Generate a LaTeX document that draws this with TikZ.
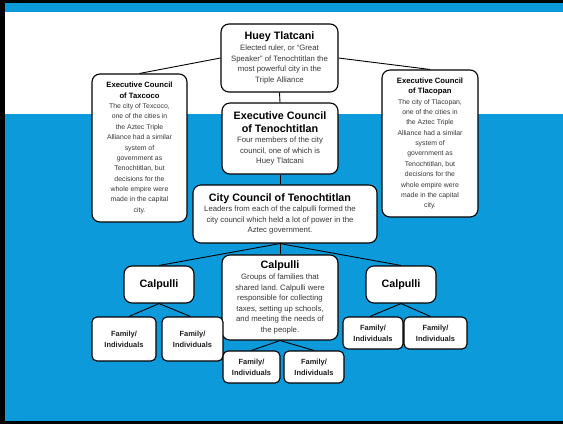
\documentclass[tikz,border=0pt]{standalone}
\usepackage{fontspec}
\setmainfont{Liberation Sans}
\usetikzlibrary{calc}
\definecolor{slideblue}{RGB}{12,154,219}
\definecolor{bodygray}{RGB}{55,55,55}
\frenchspacing
% type sizes: big titles, small titles, body text
\newcommand{\bigttl}{\fontsize{10.8}{12.6}\selectfont\bfseries\color{black}}
\newcommand{\smallttl}{\fontsize{7.7}{10.4}\selectfont\bfseries\color{black}}
\newcommand{\bodytxt}{\fontsize{7.8}{10.6}\selectfont\color{bodygray}}
\newcommand{\sidetxt}{\fontsize{6.9}{10.4}\selectfont\color{bodygray}}
\begin{document}
\begin{tikzpicture}[x=1bp,y=-1bp,
  box/.style={draw=black, line width=1.1bp, rounded corners=8bp, fill=white,
    align=flush center, inner sep=0pt},
  fam/.style={box, rounded corners=5bp, minimum height=#1,
    font=\fontsize{7.5}{11}\selectfont\bfseries, text=black!88},
  link/.style={draw=black, line width=0.9bp}]
\useasboundingbox (0,0) rectangle (563,424);
% slide background
\fill[black] (0,0) rectangle (563,424);
\fill[slideblue] (5,3.3) rectangle (563,12);
\fill[white] (5,12) rectangle (563,114);
\fill[slideblue] (5,114) rectangle (563,420.5);

% ruler
\node[box, minimum width=117bp, minimum height=68bp, text width=113bp] (huey) at (279.5,58)
  {{\bigttl Huey Tlatcani\par}{\bodytxt Elected ruler, or “Great\\Speaker” of Tenochtitlan the\\most powerful city in the\\Triple Alliance\par}};

% allied cities
\node[box, minimum width=95bp, minimum height=148bp, text width=91bp] (taxcoco) at (139.5,148)
  {{\smallttl Executive Council\\of Taxcoco\par}{\sidetxt The city of Texcoco,\\one of the cities in\\the Aztec Triple\\Alliance had a similar\\system of\\government as\\Tenochtitlan, but\\decisions for the\\whole empire were\\made in the capital\\city.\par}\vspace{4bp}};
\node[box, minimum width=96bp, minimum height=147bp, text width=92bp] (tlacopan) at (430,143.5)
  {{\smallttl Executive Council\\of Tlacopan\par}{\sidetxt The city of Tlacopan,\\one of the cities in\\the Aztec Triple\\Alliance had a similar\\system of\\government as\\Tenochtitlan, but\\decisions for the\\whole empire were\\made in the capital\\city.\par}\vspace{4bp}};

% councils of Tenochtitlan
\node[box, minimum width=116bp, minimum height=71bp, text width=112bp] (exec) at (280,138.5)
  {{\bigttl Executive Council\\of Tenochtitlan\par}{\bodytxt Four members of the city\\council, one of which is\\Huey Tlatcani\par}};
\node[box, minimum width=184bp, minimum height=58bp] (city) at (285,214) {};
\node[align=flush center, inner sep=0pt, text width=180bp] (citytext) at (280,214)
  {{\bigttl City Council of Tenochtitlan\par}{\bodytxt Leaders from each of the calpulli formed the\\city council which held a lot of power in the\\Aztec government.\par}};

% calpulli
\node[box, minimum width=70bp, minimum height=37bp] (calL) at (159,284.5) {\bigttl Calpulli};
\node[box, minimum width=116bp, minimum height=85bp, text width=112bp] (calC) at (280,297.5)
  {{\bigttl Calpulli\par}{\bodytxt Groups of families that\\shared land. Calpulli were\\responsible for collecting\\taxes, setting up schools,\\and meeting the needs of\\the people.\par}};
\node[box, minimum width=70bp, minimum height=37bp] (calR) at (401,284.5) {\bigttl Calpulli};

% families
\node[fam=44bp, minimum width=64bp] (famL1) at (124,339) {Family/\\Individuals};
\node[fam=44bp, minimum width=61bp] (famL2) at (192.5,339) {Family/\\Individuals};
\node[fam=32bp, minimum width=57bp] (famC1) at (251.5,367) {Family/\\Individuals};
\node[fam=32bp, minimum width=60bp] (famC2) at (314,367) {Family/\\Individuals};
\node[fam=32bp, minimum width=60bp] (famR1) at (373,333) {Family/\\Individuals};
\node[fam=32bp, minimum width=63bp] (famR2) at (435.5,333) {Family/\\Individuals};

% connectors
\draw[link] (huey.west) -- (taxcoco.north);
\draw[link] (huey.east) -- (tlacopan.north);
\draw[link] (huey.south) -- (exec.north);
\draw[link] (exec.south) -- (exec.south |- city.north);
\coordinate (cityfoot) at (exec.south |- city.south);
\draw[link] (cityfoot) -- (calL.north);
\draw[link] (cityfoot) -- (calC.north);
\draw[link] (cityfoot) -- (calR.north);
\draw[link] (calL.south) -- ($(famL1.north)+(5,0)$);
\draw[link] (calL.south) -- ($(famL2.north)+(-2,0)$);
\draw[link] (calC.south) -- (famC1.north);
\draw[link] (calC.south) -- (famC2.north);
\draw[link] (calR.south) -- ($(famR1.north)+(-3,0)$);
\draw[link] (calR.south) -- ($(famR2.north)+(-5,0)$);
\end{tikzpicture}
\end{document}
